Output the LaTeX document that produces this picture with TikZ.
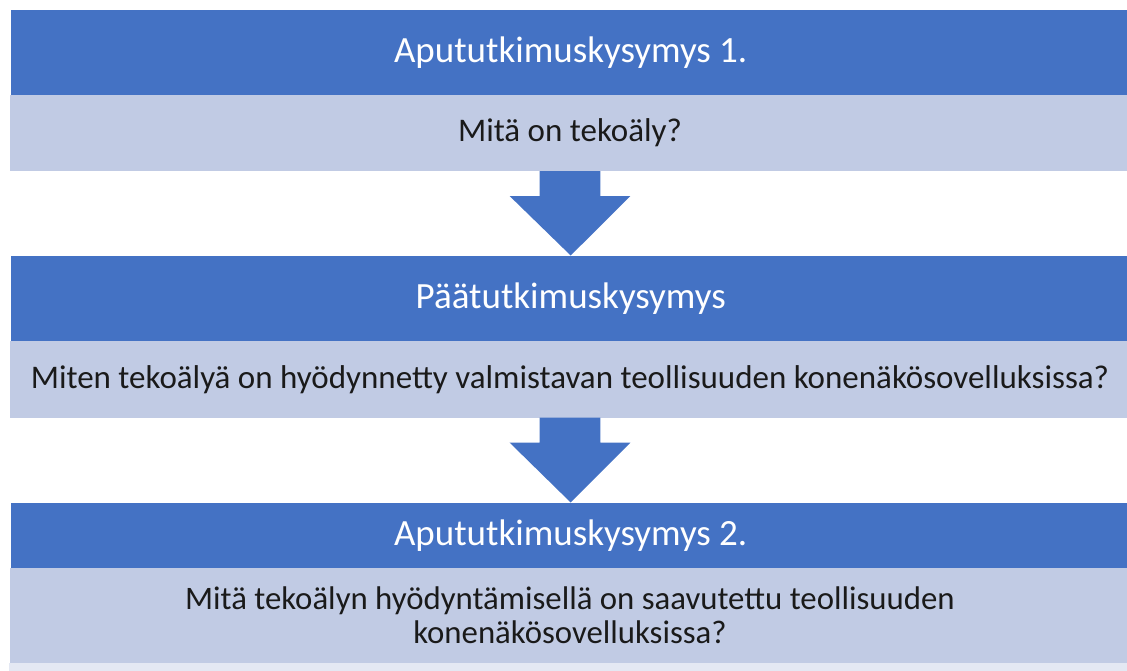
\documentclass[tikz,border=0pt]{standalone}
\usepackage{fontspec}
\setmainfont{Carlito}
\usetikzlibrary{calc}
\definecolor{hdrblue}{HTML}{4472C4}
\definecolor{bodyblue}{HTML}{C1CBE4}
\definecolor{palestrip}{HTML}{E4E8F3}
\definecolor{txtdark}{HTML}{1A1A1A}
\begin{document}
\begin{tikzpicture}[x=1pt,y=-1pt,
  hdr/.style={fill=hdrblue, text=white, font=\fontsize{37}{44}\selectfont, inner sep=0pt, anchor=north west, minimum width=1120pt},
  bodybox/.style={fill=bodyblue, text=txtdark, font=\fontsize{33}{38}\selectfont, inner sep=0pt, anchor=north west, minimum width=1121pt},
  blockarrow/.style={fill=hdrblue}]
\useasboundingbox (0,0) rectangle (1127,670);
\node[hdr, minimum height=85.4pt] (h1) at (10.5,9.3) {Apututkimuskysymys 1.};
\node[bodybox, minimum height=76pt] (b1) at (9.3,94.7) {Mitä on tekoäly?};
\node[hdr, minimum height=85.5pt] (h2) at (10.5,255.5) {Päätutkimuskysymys};
\node[bodybox, minimum height=76.3pt] (b2) at (9.3,341) {Miten tekoälyä on hyödynnetty valmistavan teollisuuden konenäkösovelluksissa?};
\node[hdr, minimum height=65.2pt] (h3) at (10.5,502.5) {Apututkimuskysymys 2.};
\node[bodybox, minimum height=95pt, align=center, font=\fontsize{32.8}{34}\selectfont] (b3) at (9.3,567.7) {Mitä tekoälyn hyödyntämisellä on saavutettu teollisuuden\\konenäkösovelluksissa?};
\fill[palestrip] (b3.south west) rectangle ($(b3.south east)+(0,10)$);
\fill[blockarrow] ($(b1.south)+(-30.3,0)$) -- ($(b1.south)+(30.3,0)$) -- ($(b1.south)+(30.3,25)$) -- ($(b1.south)+(60.3,25)$) -- (h2.north) -- ($(b1.south)+(-60.3,25)$) -- ($(b1.south)+(-30.3,25)$) -- cycle;
\fill[blockarrow] ($(b2.south)+(-30.3,0)$) -- ($(b2.south)+(30.3,0)$) -- ($(b2.south)+(30.3,25)$) -- ($(b2.south)+(60.3,25)$) -- (h3.north) -- ($(b2.south)+(-60.3,25)$) -- ($(b2.south)+(-30.3,25)$) -- cycle;
\end{tikzpicture}
\end{document}
